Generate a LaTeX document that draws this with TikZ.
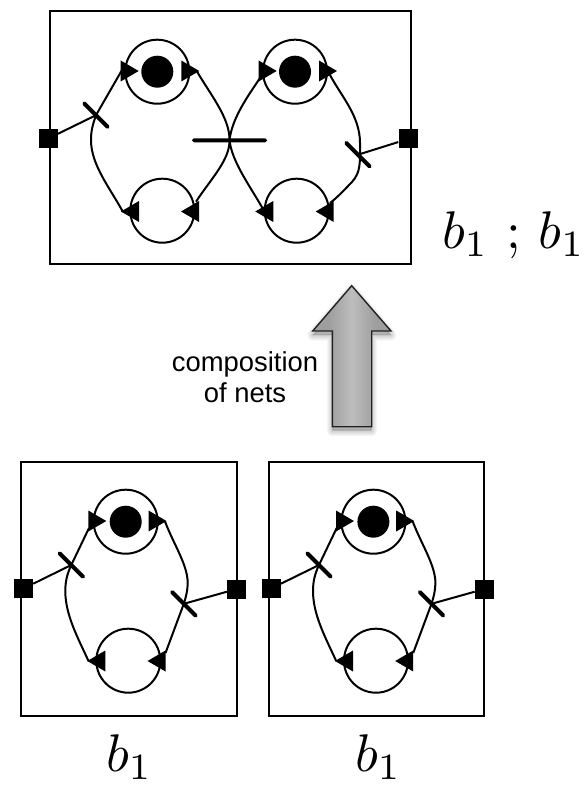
\documentclass[tikz,border=0pt]{standalone}
\usepackage{fontspec}
\setsansfont{Liberation Sans}
\usetikzlibrary{calc}
\definecolor{arrowedge}{gray}{0.13}
\pgfdeclarehorizontalshading{arrowshade}{100bp}{color(0bp)=(black!38); color(35bp)=(black!38); color(50bp)=(black!26); color(65bp)=(black!38); color(100bp)=(black!38)}
\tikzset{
  netline/.style={line width=2pt,black},
  netbox/.style={draw,line width=2pt,fill=none,inner sep=0pt,outer sep=0pt,anchor=north west},
  place/.style={circle,draw,line width=2pt,minimum size=64pt,inner sep=0pt},
  token/.style={circle,fill=black,minimum size=32pt,inner sep=0pt},
  port/.style={rectangle,fill=black,minimum size=19pt,inner sep=0pt},
  bar/.style={rectangle,fill=black,minimum width=37pt,minimum height=4pt,inner sep=0pt,rounded corners=1.8pt},
  mathlabel/.style={inner sep=0pt,scale=5.3},
}
\newcommand{\tipR}[2]{\fill (#1,#2-10.5) -- (#1+18,#2) -- (#1,#2+10.5) -- cycle;}
\newcommand{\tipL}[2]{\fill (#1,#2-10.5) -- (#1-18,#2) -- (#1,#2+10.5) -- cycle;}
\newcommand{\smallnet}[2]{%
\begin{scope}[shift={(#1,0)},name prefix=#2-]
  \node[netbox,minimum width=215.7pt,minimum height=253.7pt] (box) at (21,462) {};
  \node[place] (ptop) at (125.7,521.7) {};
  \node[token] (tok) at (125.7,521.7) {};
  \node[place] (pbot) at (128.3,660.7) {};
  \node[port] (pl) at (23.5,588.5) {};
  \node[port] (pr) at (236.7,589) {};
  \node[bar,rotate=-45] (tl) at (71.3,565) {};
  \node[bar,rotate=-45] (tr) at (183.8,603.8) {};
  \coordinate (inl) at (89,528);
  \coordinate (outl) at (88.5,661);
  \coordinate (inr) at (165,521.5);
  \coordinate (outr) at (165.5,653);
  \draw[netline] (pl) -- (tl.center);
  \draw[netline] (pr) -- (tr.center);
  \draw[netline] (outl) .. controls (78,638) and (65.3,615) .. (65.3,591) .. controls (65.3,582) and (67,574) .. (tl.center) -- (inl);
  \draw[netline] (inr) .. controls (174,545) and (187.7,565) .. (187.7,583) .. controls (187.7,590) and (186,597) .. (tr.center) -- (outr);
  \tipR{88.3}{521}
  \tipR{148.5}{521}
  \tipL{105.3}{661}
  \tipL{165.5}{661}
\end{scope}}
\begin{document}
\begin{tikzpicture}[x=1pt,y=-1pt]
\useasboundingbox (0,0) rectangle (583,786);
% top composed net
\node[netbox,minimum width=360.7pt,minimum height=253.3pt] (topbox) at (50,10.7) {};
\node[place] (p1) at (157.3,71.7) {};
\node[token] (k1) at (157.3,71.7) {};
\node[place] (p2) at (295,71.7) {};
\node[token] (k2) at (295,71.7) {};
\node[place] (p3) at (162.3,210.7) {};
\node[place] (p4) at (296.7,210.7) {};
\node[port] (q1) at (48.3,138.5) {};
\node[port] (q2) at (408,139) {};
\node[bar,rotate=-45] (t1) at (96,115.2) {};
\node[bar,minimum width=75pt] (t2) at (229.5,140.3) {};
\node[bar,rotate=-45] (t3) at (358,154.7) {};
\coordinate (a1) at (122,70);
\coordinate (a2) at (123,212);
\coordinate (a3) at (196.7,71);
\coordinate (a4) at (196,201.7);
\coordinate (a5) at (260,78);
\coordinate (a6) at (263,209);
\coordinate (a7) at (329,73);
\coordinate (a8) at (330,203);
\draw[netline] (q1) -- (t1.center);
\draw[netline] (q2) -- (t3.center);
\draw[netline] (a2) .. controls (110,188) and (91,165) .. (91,140) .. controls (91,130) and (93,124) .. (t1.center) -- (a1);
\draw[netline] (a3) .. controls (210,94) and (230,118) .. (t2.center) .. controls (230,160) and (210,180) .. (a4);
\draw[netline] (a5) .. controls (248,96) and (232,118) .. (t2.center) .. controls (232,162) and (250,186) .. (a6);
\draw[netline] (a7) .. controls (340,95) and (360,115) .. (360,143) .. controls (360,162) and (361,172) .. (352,182) .. controls (346,188) and (338,197) .. (a8);
\tipR{120.7}{71}
\tipR{181.3}{71}
\tipR{258.7}{71}
\tipR{319}{71}
\tipL{139}{211.5}
\tipL{199}{211.5}
\tipL{273.3}{211.5}
\tipL{333.7}{211.5}
\node[mathlabel,anchor=base west] (toplabel) at (441,248.5) {$b_1$ ; $b_1$};
% fat arrow with soft shadow
\foreach \w in {11,9,7,5,3,1}{
  \fill[black,opacity=0.035,line join=round,draw=black,line width=\w pt]
    (351.7,289.7) -- (391,335) -- (371.7,335) -- (371.7,430.7) -- (332.3,430.7) -- (332.3,335) -- (312.7,335) -- cycle;
}
\path[draw=arrowedge,line width=1.4pt,shading=arrowshade,shading angle=0]
  (351.7,285.7) -- (391,331) -- (371.7,331) -- (371.7,426.7) -- (332.3,426.7) -- (332.3,331) -- (312.7,331) -- cycle;
\node[align=center,inner sep=0pt,font=\sffamily\fontsize{27.4}{30.5}\selectfont] (compo) at (245,377) {composition\\of nets};
% small nets
\smallnet{0}{A}
\smallnet{247.7}{B}
\node[mathlabel,anchor=base] (la) at (129.5,771.5) {$b_1$};
\node[mathlabel,anchor=base] (lb) at (378.5,771.5) {$b_1$};
\end{tikzpicture}
\end{document}
